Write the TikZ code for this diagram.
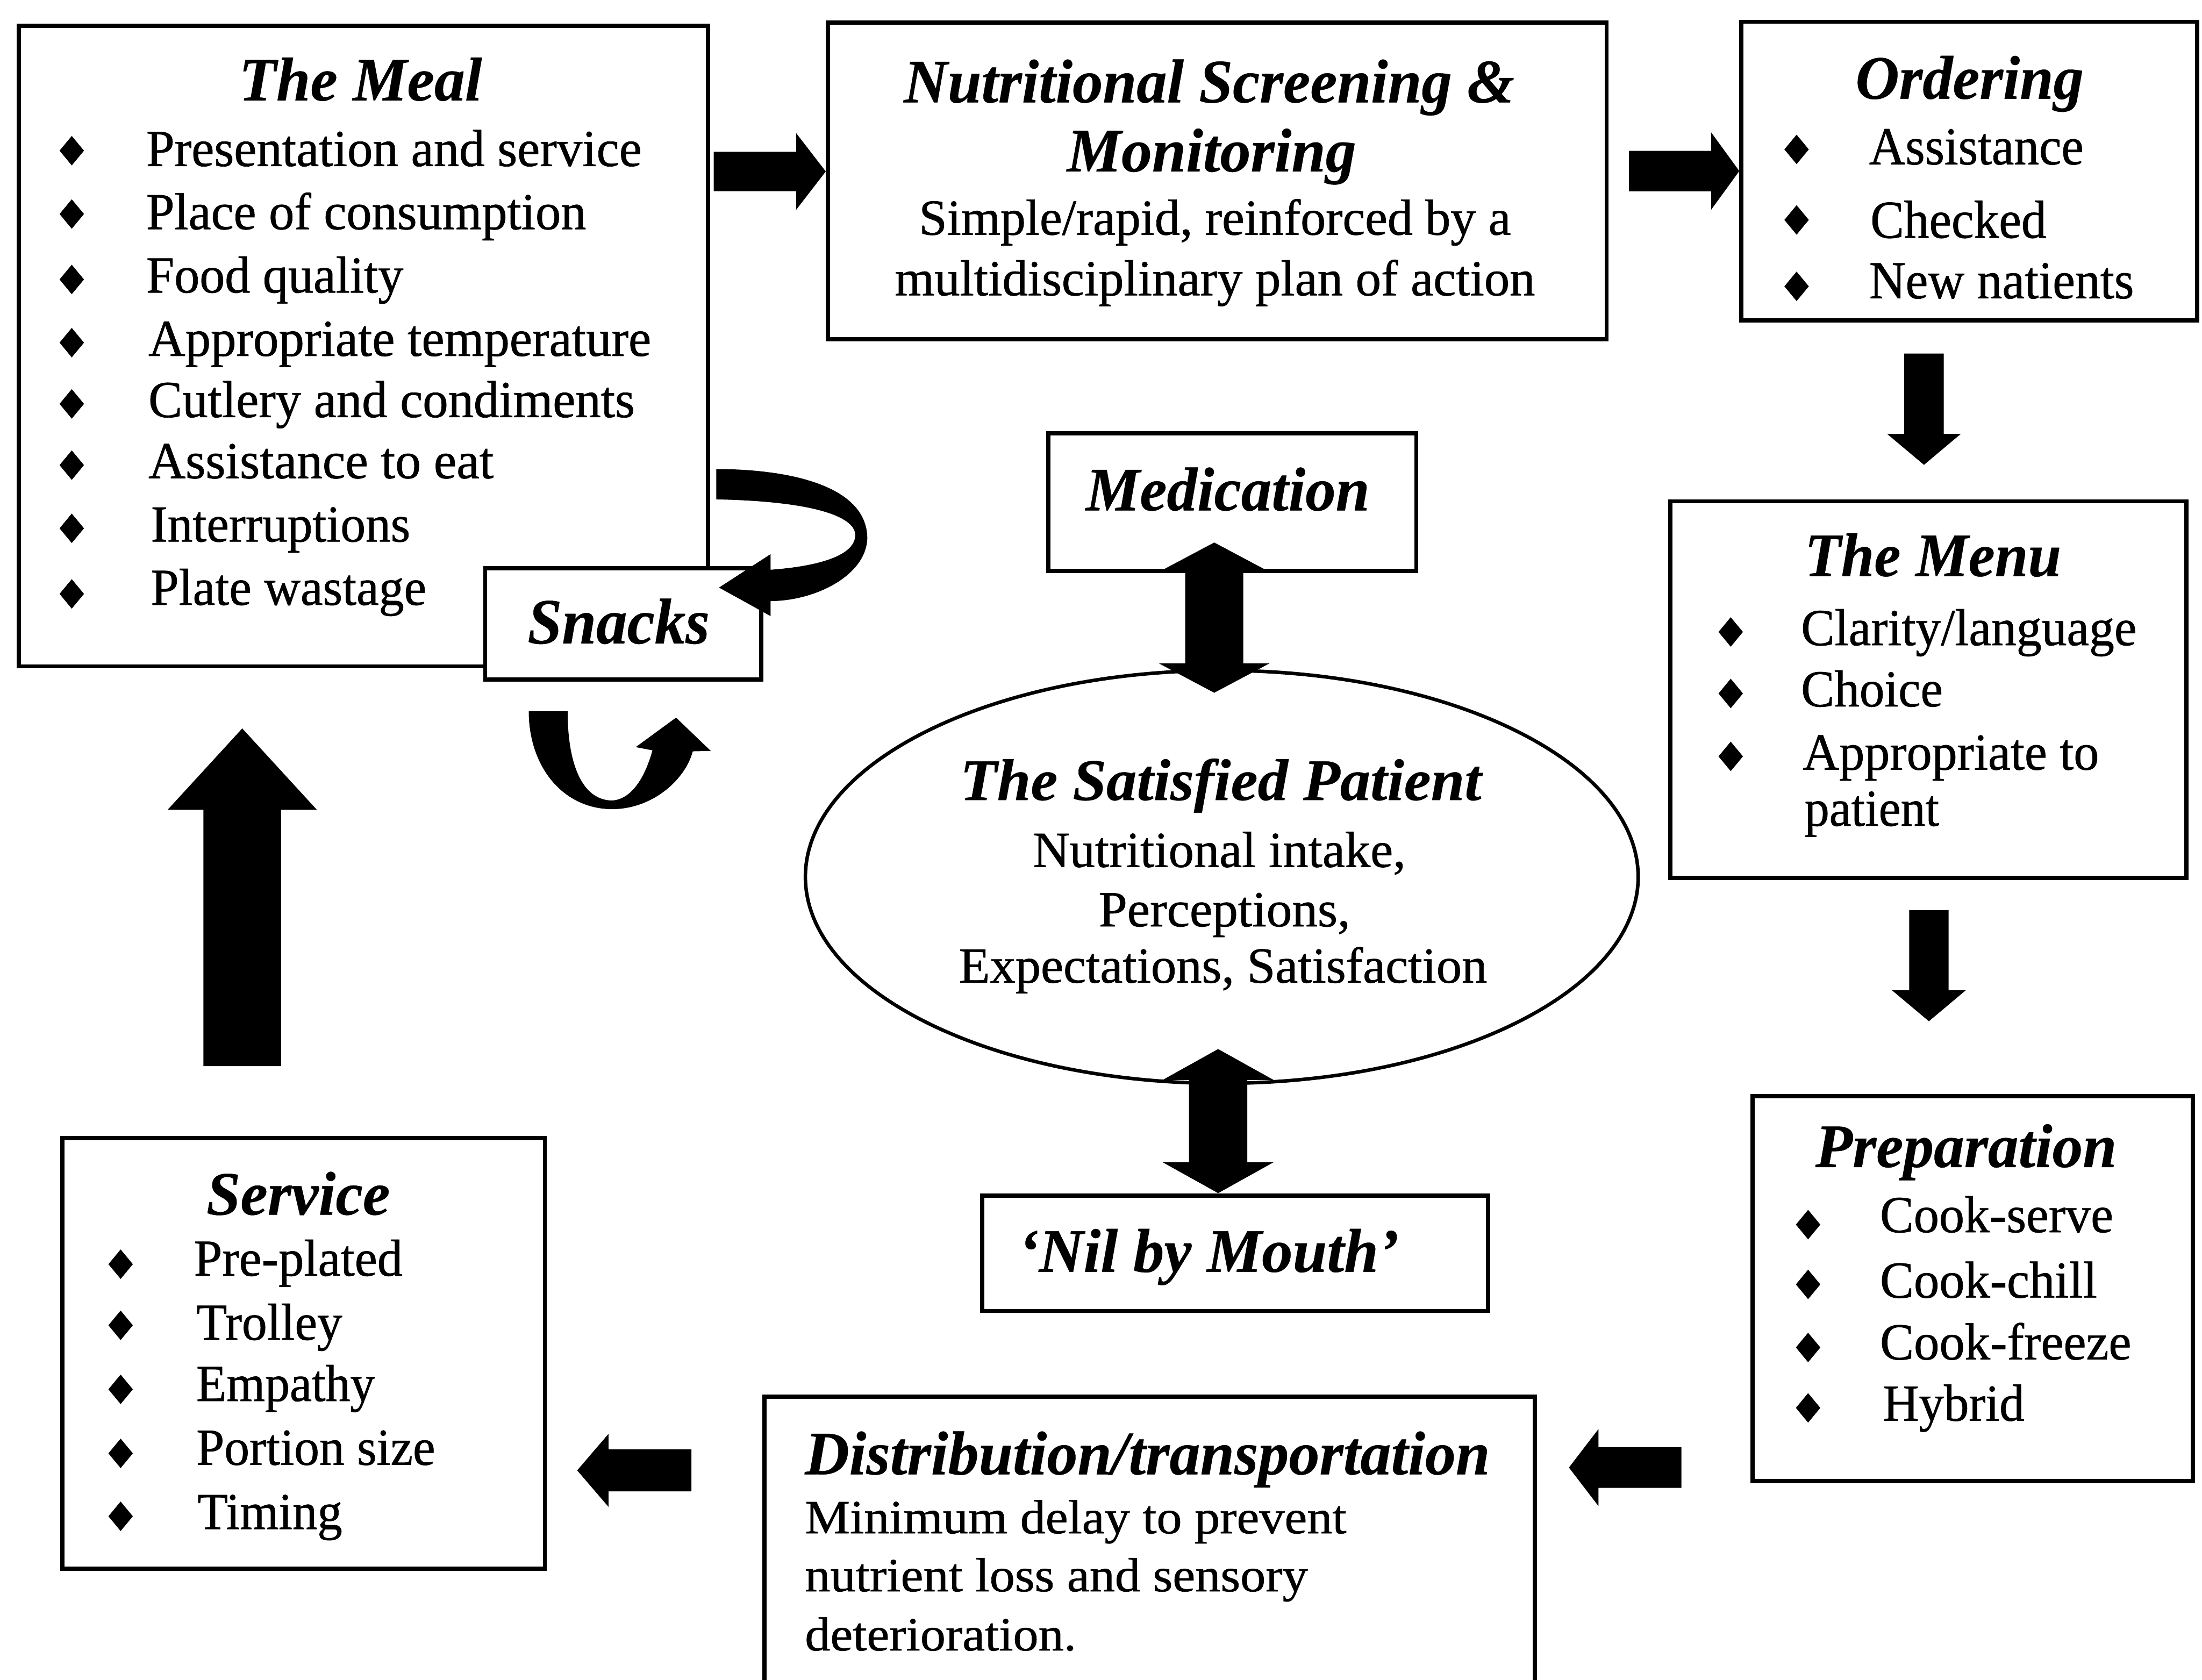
\documentclass[tikz,border=0pt]{standalone}
\usepackage{fontspec}
\setmainfont{Liberation Serif}[UprightFeatures={FakeBold=0.8},BoldItalicFeatures={FakeBold=0.4}]
\usepackage{graphicx}
\usetikzlibrary{calc,shapes.geometric}

% set a line of text to a given width (in pt), keeping its height
\newcommand\fw[2]{\resizebox{#1pt}{\height}{#2}}

% straight block arrow: tail, tip, half shaft width, half head width, head length
\newcommand\blockarrow[5]{%
  \coordinate (ba-b) at ($(#2)!#5!(#1)$);
  \fill ($(#1)!#3!90:(#2)$) -- ($(ba-b)!#3!-90:(#1)$) -- ($(ba-b)!#4!-90:(#1)$)
    -- (#2) -- ($(ba-b)!#4!90:(#1)$) -- ($(ba-b)!#3!90:(#1)$) -- ($(#1)!#3!-90:(#2)$) -- cycle;}

% two-headed block arrow: end one, end two, half shaft width, half head width, head length
\newcommand\twoheadarrow[5]{%
  \coordinate (da-a) at ($(#1)!#5!(#2)$);
  \coordinate (da-b) at ($(#2)!#5!(#1)$);
  \fill (#1) -- ($(da-a)!#4!90:(#2)$) -- ($(da-a)!#3!90:(#2)$) -- ($(da-b)!#3!-90:(#1)$)
    -- ($(da-b)!#4!-90:(#1)$) -- (#2) -- ($(da-b)!#4!90:(#1)$) -- ($(da-b)!#3!90:(#1)$)
    -- ($(da-a)!#3!-90:(#2)$) -- ($(da-a)!#4!-90:(#2)$) -- cycle;}

% bullet diamond
\newcommand\bul[2]{\fill (#1,#2) +(0,-10.5) -- +(8.7,0) -- +(0,10.5) -- +(-8.7,0) -- cycle;}

\tikzset{
  box/.style={draw, line width=3pt, fill=white, rectangle, inner sep=0pt, anchor=north west},
  ttl/.style={anchor=base west, inner sep=0pt, font=\fontsize{44}{50}\selectfont\bfseries\itshape},
  txt/.style={anchor=base west, inner sep=0pt, font=\fontsize{37}{44}\selectfont},
}

\begin{document}
\begin{tikzpicture}[x=1pt,y=-1pt]
\useasboundingbox (0,0) rectangle (1568,1196);

% ---------- boxes ----------
\node[box, minimum width=490.5pt, minimum height=456pt] (meal) at (12,17) {};
\node[box, minimum width=554.5pt, minimum height=225.5pt] (nutr) at (588,14.5) {};
\node[box, minimum width=324.5pt, minimum height=212.5pt] (order) at (1238.5,14) {};
\node[box, minimum width=262pt, minimum height=98pt] (med) at (745,307) {};
\node[box, minimum width=367.5pt, minimum height=268pt] (menu) at (1188,355.5) {};
\node[box, minimum width=313.5pt, minimum height=274pt] (prep) at (1246.5,779) {};
\node[box, minimum width=360pt, minimum height=82pt] (nil) at (698,850) {};
\node[box, minimum width=548.5pt, minimum height=206pt] (dist) at (543,993) {};
\node[box, minimum width=343.5pt, minimum height=306.5pt] (serv) at (43,809) {};
\node[box, minimum width=196.5pt, minimum height=79.5pt] (snack) at (344,403) {};
\node[draw, ellipse, line width=2.5pt, inner sep=0pt, minimum width=593pt, minimum height=294pt]
  (patient) at (870,624.4) {};

% ---------- The Meal ----------
\node[ttl] (mealT) at (170,71.5) {\fw{173}{The Meal}};
\node[txt] (meal1) at (103.9,118.2) {\fw{352.9}{Presentation and service}};
\node[txt] (meal2) at (103.9,163.2) {\fw{313.3}{Place of consumption}};
\node[txt] (meal3) at (103.9,208.3) {\fw{183.1}{Food quality}};
\node[txt] (meal4) at (105.5,253.4) {\fw{357.9}{Appropriate temperature}};
\node[txt] (meal5) at (105.5,297) {\fw{346.3}{Cutlery and condiments}};
\node[txt] (meal6) at (105.5,340.5) {\fw{245.8}{Assistance to eat}};
\node[txt] (meal7) at (107.2,385.6) {\fw{184.7}{Interruptions}};
\node[txt] (meal8) at (107.2,430.7) {\fw{196.2}{Plate wastage}};
\foreach \y in {107.3,152.4,199,244,287.6,331.2,376.2,422.9} {\bul{51.1}{\y}}

\node[ttl, font=\fontsize{46}{52}\selectfont\bfseries\itshape] (snackT) at (375.5,458.2) {\fw{129.6}{Snacks}};

% ---------- Nutritional screening ----------
\node[ttl] (nutrT1) at (643.4,72.9) {\fw{434.7}{Nutritional Screening \&}};
\node[ttl] (nutrT2) at (759.6,122.1) {\fw{205.9}{Monitoring}};
\node[txt, font=\fontsize{36}{42}\selectfont] (nutr1) at (654.2,167.1) {\fw{421.4}{Simple/rapid, reinforced by a}};
\node[txt, font=\fontsize{36}{42}\selectfont] (nutr2) at (637,210.3) {\fw{455.8}{multidisciplinary plan of action}};

% ---------- Ordering ----------
\node[ttl] (orderT) at (1321.1,70.3) {\fw{162.4}{Ordering}};
\node[txt, font=\fontsize{38}{44}\selectfont] (order1) at (1330.8,117) {\fw{152.7}{Assistance}};
\node[txt, font=\fontsize{38}{44}\selectfont] (order2) at (1331.7,169.3) {\fw{125.3}{Checked}};
\node[txt, font=\fontsize{38}{44}\selectfont] (order3) at (1330.8,212.4) {\fw{188.5}{New natients}};
\foreach \y in {106.4,156.6,203.9} {\bul{1279.3}{\y}}

% ---------- Medication ----------
\node[ttl] (medT) at (773,363.4) {\fw{202}{Medication}};

% ---------- The Menu ----------
\node[ttl] (menuT) at (1284.9,410.2) {\fw{182.6}{The Menu}};
\node[txt] (menu1) at (1282.3,459.4) {\fw{238.9}{Clarity/language}};
\node[txt] (menu2) at (1282.3,503) {\fw{100.9}{Choice}};
\node[txt] (menu3) at (1283.5,548) {\fw{210.9}{Appropriate to}};
\node[txt] (menu4) at (1284.8,588) {\fw{95.8}{patient}};
\foreach \y in {450,493.8,538.6} {\bul{1232.4}{\y}}

% ---------- Preparation ----------
\node[ttl] (prepT) at (1292.5,831) {\fw{214.5}{Preparation}};
\node[txt] (prep1) at (1338.5,877.4) {\fw{166.1}{Cook-serve}};
\node[txt] (prep2) at (1338.5,924) {\fw{154.6}{Cook-chill}};
\node[txt] (prep3) at (1338.5,968) {\fw{178.9}{Cook-freeze}};
\node[txt] (prep4) at (1340.6,1011.6) {\fw{100.7}{Hybrid}};
\foreach \y in {872,914.6,959.5,1002.5} {\bul{1287.5}{\y}}

% ---------- The satisfied patient ----------
\node[ttl, font=\fontsize{42}{48}\selectfont\bfseries\itshape] (patT) at (683.5,569.7) {\fw{371.1}{The Satisfied Patient}};
\node[txt, font=\fontsize{36}{42}\selectfont] (pat1) at (735.3,617.3) {\fw{265.4}{Nutritional intake,}};
\node[txt, font=\fontsize{36}{42}\selectfont] (pat2) at (782.2,659.6) {\fw{179.1}{Perceptions,}};
\node[txt, font=\fontsize{36}{42}\selectfont] (pat3) at (682.6,699.7) {\fw{376.1}{Expectations, Satisfaction}};

% ---------- Nil by mouth ----------
\node[ttl] (nilT) at (725,905.6) {\fw{271}{`Nil by Mouth'}};

% ---------- Distribution ----------
\node[ttl] (distT) at (573,1049.8) {\fw{487.7}{Distribution/transportation}};
\node[txt, font=\fontsize{34}{40}\selectfont] (dist1) at (573,1091.8) {\fw{385.5}{Minimum delay to prevent}};
\node[txt, font=\fontsize{34}{40}\selectfont] (dist2) at (573,1133.1) {\fw{358.1}{nutrient loss and sensory}};
\node[txt, font=\fontsize{34}{40}\selectfont] (dist3) at (573,1175.2) {\fw{193.2}{deterioration.}};

% ---------- Service ----------
\node[ttl] (servT) at (146.8,864.9) {\fw{130.7}{Service}};
\node[txt] (serv1) at (137.9,908.4) {\fw{148.6}{Pre-plated}};
\node[txt] (serv2) at (139.6,954) {\fw{103.9}{Trolley}};
\node[txt] (serv3) at (139.6,997.6) {\fw{127.2}{Empathy}};
\node[txt] (serv4) at (139.6,1043) {\fw{170.1}{Portion size}};
\node[txt] (serv5) at (140.4,1088.8) {\fw{103.1}{Timing}};
\foreach \y in {900.2,943.7,989.3,1034.9,1079.7} {\bul{85.9}{\y}}

% ---------- block arrows of the cycle ----------
\coordinate (mn-t) at (508.2,122.1);  \coordinate (mn-h) at (nutr.west |- mn-t);
\blockarrow{mn-t}{mn-h}{14pt}{27.2pt}{21pt}
\coordinate (no-t) at (1160,121.8);   \coordinate (no-h) at (order.west |- no-t);
\blockarrow{no-t}{no-h}{14.4pt}{27.5pt}{20pt}
\coordinate (om-t) at (1370,251.7);   \coordinate (om-h) at (1370,331);
\blockarrow{om-t}{om-h}{14.1pt}{26.2pt}{22pt}
\coordinate (mp-t) at (1373.5,648);   \coordinate (mp-h) at (1373.5,727.2);
\blockarrow{mp-t}{mp-h}{14pt}{26.2pt}{22pt}
\coordinate (pd-t) at (1197.3,1045); \coordinate (pd-h) at (1117.2,1045);
\blockarrow{pd-t}{pd-h}{14.5pt}{27.4pt}{21pt}
\coordinate (ds-t) at (492.3,1047);   \coordinate (ds-h) at (411,1047);
\blockarrow{ds-t}{ds-h}{15pt}{26pt}{22.3pt}
\coordinate (sm-t) at (172.5,759.2);  \coordinate (sm-h) at (172.5,518.7);
\blockarrow{sm-t}{sm-h}{27.7pt}{53.2pt}{58pt}

% ---------- two-way arrows to the patient ----------
\coordinate (mp-a) at (864.6,386.3); \coordinate (mp-b) at (864.6,493.3);
\twoheadarrow{mp-a}{mp-b}{20.7pt}{39.5pt}{21pt}
\coordinate (pn-a) at (867.4,747);   \coordinate (pn-b) at (867.4,849.6);
\twoheadarrow{pn-a}{pn-b}{20.75pt}{39.5pt}{22pt}

% ---------- curved arrows round the snacks ----------
\fill (510,334) .. controls (560,334) and (617,345) .. (617.6,383)
  .. controls (617,410) and (580,428) .. (548.7,428)
  -- (548.7,438.7) -- (512,418.4) -- (548.7,394.6) -- (548.7,405.7)
  .. controls (585,403) and (609,395) .. (609,381)
  .. controls (609,368) and (580,357) .. (510,355.6) -- cycle;
\fill (376.5,506.5) .. controls (376.5,545) and (400,576) .. (436,576.2)
  .. controls (465,576) and (488,555) .. (493.3,535)
  -- (506.1,534.7) -- (481.4,511) -- (452.7,532) -- (464.6,534.3)
  .. controls (460,551) and (451,569) .. (436,570)
  .. controls (415,570) and (404.2,545) .. (404.2,506.5) -- cycle;
\end{tikzpicture}
\end{document}
